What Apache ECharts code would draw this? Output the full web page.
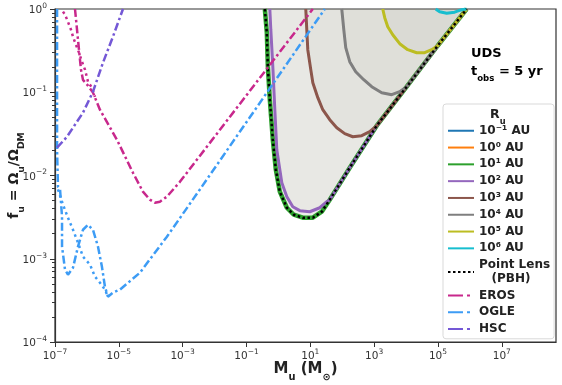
<!DOCTYPE html>
<html>
<head>
<meta charset="utf-8">
<script src="https://cdn.jsdelivr.net/npm/echarts@6/dist/echarts.min.js"></script>
<style>
  html, body { margin: 0; padding: 0; background: #fff; }
  #chart { width: 562px; height: 385px; }
</style>
</head>
<body>
<div id="chart"></div>
<script>
// tick positions
const xTicks = [1e-7, 1e-5, 1e-3, 1e-1, 1e1, 1e3, 1e5, 1e7]
const yTicks = [1e-4, 1e-3, 1e-2, 1e-1, 1]

// [M_u, f_u]
const pointLens = [
  [0.376, 1], [0.434, 0.519], [0.467, 0.203], [0.539, 0.0814], [0.669, 0.0269],
  [0.83, 0.01175], [1.107, 0.00639], [1.84, 0.0041], [3.04, 0.00338], [5.82, 0.00311],
  [12.0, 0.00311], [22.9, 0.00367], [40.7, 0.00512], [172, 0.0124], [1206, 0.0396],
  [10490, 0.1166], [98000, 0.362], [7.93e5, 1]
]
const ru100 = [
  [0.539, 1], [0.579, 0.564], [0.669, 0.203], [0.773, 0.0617], [0.892, 0.0204],
  [1.28, 0.0082], [1.84, 0.00557], [2.83, 0.00422], [4.69, 0.00378], [9.64, 0.00367],
  [19.8, 0.0041], [32.8, 0.00485], [40.7, 0.00512], [172, 0.0124], [1206, 0.0396],
  [10490, 0.1166], [98000, 0.362], [7.93e5, 1]
]
const ru1e3 = [
  [7.21, 1], [7.76, 0.564], [8.34, 0.3245], [10.35, 0.187], [12.0, 0.13], [17.2, 0.0861],
  [24.6, 0.0617], [40.7, 0.0468], [67.5, 0.0375], [120, 0.0318], [214, 0.0292],
  [409, 0.0301], [728, 0.0336], [1206, 0.0396], [10490, 0.1166], [98000, 0.362], [7.93e5, 1]
]
const ru1e4 = [
  [96.8, 1], [112, 0.564], [129, 0.343], [172, 0.233], [265, 0.1766], [472, 0.1415],
  [841, 0.1166], [1730, 0.0988], [3560, 0.0935], [6330, 0.1016], [10490, 0.1166],
  [98000, 0.362], [7.93e5, 1]
]
const ru1e5 = [
  [1862, 1], [2150, 0.786], [2670, 0.613], [3830, 0.491], [6330, 0.383], [11270, 0.3245],
  [21580, 0.2985], [38400, 0.2985], [63500, 0.3245], [98000, 0.362], [7.93e5, 1]
]
const ru1e6 = [
  [84900, 1], [113000, 0.928], [187700, 0.89], [334000, 0.915], [553000, 0.981], [7.93e5, 1]
]

const erosLine = [
  [4.23e-7, 1], [5.25e-7, 0.43], [6.52e-7, 0.187], [7.53e-7, 0.141], [1.08e-6, 0.12],
  [1.55e-6, 0.099], [2.56e-6, 0.0617], [8.73e-6, 0.0269], [2.77e-5, 0.0108],
  [5.69e-5, 0.0064], [9.42e-5, 0.00513], [1.35e-4, 0.00471], [1.94e-4, 0.00485],
  [3.21e-4, 0.00557], [8.2e-4, 0.0084], [12.0, 1]
]
const erosDotted = [
  [1.78e-7, 0.93], [2.06e-7, 0.855], [2.55e-7, 0.7], [3.17e-7, 0.564], [3.66e-7, 0.465],
  [4.54e-7, 0.37], [5.64e-7, 0.3], [7.0e-7, 0.233], [8.7e-7, 0.187], [1.08e-6, 0.134],
  [1.44e-6, 0.113], [1.79e-6, 0.088]
]
const ogleLine = [
  [1.16e-7, 1], [1.16e-7, 0.0204], [1.24e-7, 0.00733], [1.44e-7, 0.0068], [1.66e-7, 0.0032],
  [1.66e-7, 0.0014], [2.06e-7, 0.00074], [2.55e-7, 0.000644], [3.66e-7, 0.00078],
  [5.25e-7, 0.0014], [7.53e-7, 0.00223], [1.08e-6, 0.00256], [1.55e-6, 0.00223],
  [2.22e-6, 0.0014], [2.96e-6, 0.0008], [3.67e-6, 0.000462], [4.56e-6, 0.00035],
  [6.54e-6, 0.000392], [1.08e-5, 0.000425], [4.58e-5, 0.00068], [3.21e-4, 0.00184],
  [3.47e-3, 0.0068], [28.4, 1]
]
const ogleDotted = [
  [1.24e-7, 0.0068], [1.78e-7, 0.00447], [2.55e-7, 0.00311], [3.66e-7, 0.00223],
  [5.25e-7, 0.00156], [7.53e-7, 0.00106], [1.25e-6, 0.00085], [1.79e-6, 0.00061],
  [2.56e-6, 0.000516], [3.67e-6, 0.000425], [4.56e-6, 0.00035]
]
const hscLine = [
  [1.16e-7, 0.0216], [2.38e-7, 0.0292], [7.53e-7, 0.0568], [1.55e-6, 0.1016],
  [3.18e-6, 0.226], [6.54e-6, 0.465], [1.35e-5, 1]
]

const contours = [
  { name: '10⁻¹ AU', color: '#1f77b4', data: pointLens, width: 3 },
  { name: '10⁰ AU', color: '#ff7f0e', data: pointLens, width: 3 },
  { name: '10¹ AU', color: '#2ca02c', data: pointLens, width: 4.5 },
  { name: '10² AU', color: '#9467bd', data: ru100, width: 3 },
  { name: '10³ AU', color: '#8c564b', data: ru1e3, width: 3 },
  { name: '10⁴ AU', color: '#7f7f7f', data: ru1e4, width: 3 },
  { name: '10⁵ AU', color: '#bcbd22', data: ru1e5, width: 3 },
  { name: '10⁶ AU', color: '#17becf', data: ru1e6, width: 3 }
]

const erosColor = '#c8288c'
const ogleColor = '#3d9cf5'
const hscColor = '#7458d6'
const dashDot = [8, 3, 2.5, 3]

const yMinor = []
for (let d = -4; d < 0; d++) {
  for (let k = 2; k <= 9; k++) yMinor.push(k * Math.pow(10, d))
}

const font = 'DejaVu Sans'
const expLabel = v => {
  const e = Math.round(Math.log10(v))
  return '{b|10}{p|' + (e < 0 ? '\u2212' + (-e) : e) + '}'
}
const tickRich = {
  b: { fontFamily: font, fontSize: 10.5, color: '#333', lineHeight: 14, verticalAlign: 'bottom' },
  p: { fontFamily: font, fontSize: 7.5, color: '#333', lineHeight: 8, verticalAlign: 'top' }
}
const nameRich = size => ({
  b: { fontFamily: font, fontWeight: 'bold', fontSize: size, color: '#222', lineHeight: size + 5, verticalAlign: 'top' },
  s: { fontFamily: font, fontWeight: 'bold', fontSize: size * 0.66, color: '#222', lineHeight: size * 0.66, verticalAlign: 'bottom' }
})

const chart = echarts.init(document.getElementById('chart'))

const fillSeries = contours.map(c => ({
  type: 'custom',
  silent: true,
  z: 1,
  data: [c.data[0]],
  renderItem: (params, api) => ({
    type: 'polygon',
    shape: { points: c.data.map(p => api.coord(p)) },
    style: { fill: 'rgba(105,105,85,0.045)' }
  })
}))

const contourSeries = contours.map(c => ({
  name: c.name,
  type: 'line',
  symbol: 'none',
  z: 2,
  data: c.data,
  lineStyle: { color: c.color, width: c.width },
  itemStyle: { color: c.color }
}))

const otherSeries = [
  {
    name: 'Point Lens (PBH)', type: 'line', symbol: 'none', z: 3, data: pointLens,
    lineStyle: { color: '#000', width: 2.5, type: [2.5, 2.5] }, itemStyle: { color: '#000' }
  },
  {
    name: 'EROS dotted', type: 'line', symbol: 'none', z: 3, data: erosDotted,
    lineStyle: { color: erosColor, width: 2.5, type: [2.5, 3.5] }
  },
  {
    name: 'EROS', type: 'line', symbol: 'none', z: 3, data: erosLine,
    lineStyle: { color: erosColor, width: 2.5, type: dashDot }, itemStyle: { color: erosColor }
  },
  {
    name: 'OGLE dotted', type: 'line', symbol: 'none', z: 3, data: ogleDotted,
    lineStyle: { color: ogleColor, width: 2.5, type: [2.5, 3.5] }
  },
  {
    name: 'OGLE', type: 'line', symbol: 'none', z: 3, data: ogleLine,
    lineStyle: { color: ogleColor, width: 2.5, type: dashDot }, itemStyle: { color: ogleColor }
  },
  {
    name: 'HSC', type: 'line', symbol: 'none', z: 3, data: hscLine,
    lineStyle: { color: hscColor, width: 2.5, type: dashDot }, itemStyle: { color: hscColor }
  }
]

const legendDash = { type: [15, 4, 3, 4] }

const option = {
  animation: false,
  grid: {
    left: 55, right: 6, top: 9, bottom: 43,
    outerBoundsMode: 'none',
    show: true, borderColor: '#333', borderWidth: 1.2, backgroundColor: 'transparent'
  },
  title: {
    text: '{b|R}{s|u}',
    left: 485, top: 103,
    textStyle: { rich: nameRich(12.5) }
  },
  legend: {
    orient: 'vertical',
    left: 443, top: 104,
    padding: [20, 4, 3, 4],
    itemWidth: 26, itemHeight: 10, itemGap: 3.3,
    selectedMode: false,
    itemStyle: { opacity: 0 },
    borderColor: '#d9d9d9', borderWidth: 1, borderRadius: 3,
    backgroundColor: 'rgba(255,255,255,0.85)',
    textStyle: { fontFamily: font, fontWeight: 'bold', fontSize: 12, color: '#222', lineHeight: 13.5 },
    data: contours.map(c => ({ name: c.name })).concat([
      { name: 'Point Lens (PBH)' },
      { name: 'EROS', lineStyle: legendDash },
      { name: 'OGLE', lineStyle: legendDash },
      { name: 'HSC', lineStyle: legendDash }
    ]),
    formatter: n => n === 'Point Lens (PBH)' ? 'Point Lens\n   (PBH)' : n
  },
  graphic: [
    {
      type: 'text', left: 471, top: 47,
      style: {
        text: '{b|UDS}\n{b|t}{s|obs}{b| = 5 yr}',
        rich: nameRich(13)
      }
    }
  ],
  xAxis: {
    type: 'log', min: 1e-7, max: 5e8,
    axisLine: { lineStyle: { color: '#333', width: 1.2 } },
    axisTick: { length: 5, lineStyle: { color: '#333' }, customValues: xTicks },
    axisLabel: { customValues: xTicks, formatter: expLabel, margin: 6, rich: tickRich },
    splitLine: { show: false },
    name: '{b|M}{s|u}{b| (M}{s|⊙}{b|)}',
    nameLocation: 'middle', nameGap: 20, nameMoveOverlap: false,
    nameTextStyle: { rich: nameRich(15) }
  },
  yAxis: [
    {
      type: 'log', min: 1e-4, max: 1,
      axisLine: { lineStyle: { color: '#333', width: 1.2 } },
      axisTick: { length: 5, lineStyle: { color: '#333' }, customValues: yTicks },
      axisLabel: { customValues: yTicks, formatter: expLabel, margin: 8, rich: tickRich },
      splitLine: { show: false },
      name: '{b|f}{s|u}{b| = Ω}{s|u}{b|/Ω}{s|DM}',
      nameLocation: 'middle', nameGap: 29, nameRotate: 90, nameMoveOverlap: false,
      nameTextStyle: { rich: nameRich(14) }
    },
    {
      type: 'log', min: 1e-4, max: 1, position: 'left',
      axisLine: { show: false },
      axisTick: { length: 3, lineStyle: { color: '#333' }, customValues: yMinor },
      axisLabel: { show: false },
      splitLine: { show: false }
    }
  ],
  series: fillSeries.concat(contourSeries, otherSeries)
}

chart.setOption(option)
</script>
</body>
</html>
